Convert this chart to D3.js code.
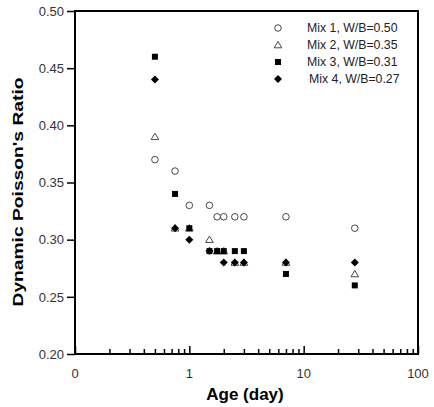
<!DOCTYPE html>
<html><head><meta charset="utf-8">
<script src="https://cdn.jsdelivr.net/npm/d3@7"></script>
<style>body{margin:0;background:#fff}svg{display:block}</style>
</head><body><svg id="c" width="434" height="407"></svg>
<script>
const ages = [0.5, 0.75, 1, 1.5, 1.75, 2, 2.5, 3, 7, 28];
const mix1 = [0.37, 0.36, 0.33, 0.33, 0.32, 0.32, 0.32, 0.32, 0.32, 0.31];
const mix2 = [0.39, 0.31, 0.31, 0.30, 0.29, 0.29, 0.28, 0.28, 0.28, 0.27];
const mix3 = [0.46, 0.34, 0.31, 0.29, 0.29, 0.29, 0.29, 0.29, 0.27, 0.26];
const mix4 = [0.44, 0.31, 0.30, 0.29, null, 0.28, 0.28, 0.28, 0.28, 0.28];
const seriesNames = ["Mix 1, W/B=0.50", "Mix 2, W/B=0.35", "Mix 3, W/B=0.31", "Mix 4, W/B=0.27"];
const yTicks = [0.20, 0.25, 0.30, 0.35, 0.40, 0.45, 0.50];
const xMajor = [0.1, 1, 10, 100];
const xLabels = ["0", "1", "10", "100"];

const svg = d3.select("#c");
const L = 75, R = 418, T = 11, B = 354;
const x = d3.scaleLog().domain([0.1, 100]).range([L, R]);
const y = d3.scaleLinear().domain([0.20, 0.50]).range([B, T]);
const font = "'Liberation Sans', Arial, sans-serif";

// frame
svg.append("rect").attr("x", L).attr("y", T).attr("width", R - L).attr("height", B - T)
  .attr("fill", "none").attr("stroke", "#000").attr("stroke-width", 2);

// y axis
const ya = svg.append("g").attr("transform", `translate(${L},0)`)
  .call(d3.axisLeft(y).tickValues(yTicks).tickFormat(d3.format(".2f")).tickSize(8).tickPadding(3));
ya.select(".domain").remove();
ya.selectAll("line").attr("stroke-width", 1.5);
ya.selectAll("text").attr("font-family", font).attr("font-size", 13).attr("fill", "#333");

// x axis: inward ticks
const minor = [];
[0.1, 1, 10].forEach(d => { for (let k = 2; k <= 9; k++) minor.push(d * k); });
const xa = svg.append("g").attr("transform", `translate(0,${B})`)
  .call(d3.axisTop(x).tickValues(xMajor).tickFormat(() => "").tickSize(8));
xa.select(".domain").remove();
xa.selectAll("line").attr("stroke-width", 1.5);
const xm = svg.append("g").attr("transform", `translate(0,${B})`)
  .call(d3.axisTop(x).tickValues(minor).tickFormat(() => "").tickSize(5));
xm.select(".domain").remove();
xm.selectAll("line").attr("stroke-width", 1.5);
svg.append("g").selectAll("text").data(xMajor).join("text")
  .attr("x", d => x(d)).attr("y", B + 24).attr("text-anchor", "middle")
  .attr("font-family", font).attr("font-size", 13).attr("fill", "#333")
  .text((d, i) => xLabels[i]);

// axis titles
svg.append("text").attr("x", 245).attr("y", 400).attr("text-anchor", "middle")
  .attr("font-family", font).attr("font-size", 17).attr("font-weight", "bold").text("Age (day)");
svg.append("text").attr("transform", "translate(23,192) rotate(-90)").attr("text-anchor", "middle")
  .attr("font-family", font).attr("font-size", 15).attr("font-weight", "bold")
  .attr("textLength", 229).attr("lengthAdjust", "spacingAndGlyphs")
  .text("Dynamic Poisson's Ratio");

// symbols
const symCircle = d3.symbol().type(d3.symbolCircle).size(34)();
const symTri = "M0,-3.6L3.8,2.8L-3.8,2.8Z";
const symSq = d3.symbol().type(d3.symbolSquare).size(36)();
const symDia = "M0,-4L4,0L0,4L-4,0Z";
const styles = [
  {path: symCircle, fill: "#fff", stroke: "#333", sw: 0.9, vals: mix1},
  {path: symTri, fill: "#fff", stroke: "#333", sw: 0.9, vals: mix2},
  {path: symSq, fill: "#000", stroke: "none", sw: 0, vals: mix3},
  {path: symDia, fill: "#000", stroke: "none", sw: 0, vals: mix4}
];
styles.forEach(s => {
  const pts = ages.map((a, i) => [a, s.vals[i]]).filter(p => p[1] != null);
  svg.append("g").selectAll("path").data(pts).join("path")
    .attr("d", s.path)
    .attr("transform", d => `translate(${x(d[0])},${y(d[1])})`)
    .attr("fill", s.fill).attr("stroke", s.stroke).attr("stroke-width", s.sw);
});

// legend
const lg = svg.append("g");
const ly = [28, 45, 62, 79];
styles.forEach((s, i) => {
  lg.append("path").attr("d", s.path).attr("transform", `translate(278,${ly[i]})`)
    .attr("fill", s.fill).attr("stroke", s.stroke).attr("stroke-width", s.sw);
  lg.append("text").attr("x", i === 3 ? 309 : 307).attr("y", ly[i] + 4)
    .attr("font-family", font).attr("font-size", 12.3).attr("fill", "#222").text(seriesNames[i]);
});
</script></body></html>
